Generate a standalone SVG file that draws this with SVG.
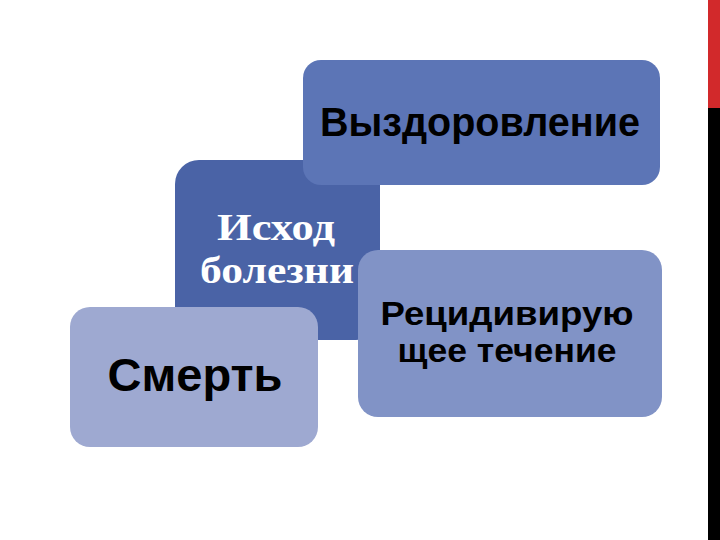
<svg xmlns="http://www.w3.org/2000/svg" width="720" height="540" viewBox="0 0 720 540">
<style>
.lbl{font-family:"Liberation Sans",Arial,sans-serif;font-weight:bold;fill:#000;text-anchor:middle}
.serif{font-family:"Liberation Serif","Times New Roman",serif;font-weight:bold;fill:#fff;text-anchor:middle}
</style>
<rect width="720" height="540" fill="#fff"/>
<rect x="708" y="0" width="12" height="108" fill="#d2292b"/>
<rect x="708" y="108" width="12" height="432" fill="#000"/>
<g id="ishod">
<rect x="175" y="160" width="205" height="180" rx="24" fill="#4a63a6"/>
<text class="serif" font-size="38" x="276" y="240" textLength="118" lengthAdjust="spacingAndGlyphs">Исход</text>
<text class="serif" font-size="38" x="277" y="283" textLength="154" lengthAdjust="spacingAndGlyphs">болезни</text>
</g>
<g id="vyzdorovlenie">
<rect x="303" y="60" width="357" height="125" rx="18" fill="#5c75b6"/>
<text class="lbl" font-size="41" x="480" y="136" textLength="320" lengthAdjust="spacingAndGlyphs">Выздоровление</text>
</g>
<g id="smert">
<rect x="70" y="307" width="248" height="140" rx="20" fill="#9ea9d1"/>
<text class="lbl" font-size="46" x="195" y="391" textLength="175" lengthAdjust="spacingAndGlyphs">Смерть</text>
</g>
<g id="recidiv">
<rect x="358" y="250" width="304" height="167" rx="20" fill="#8193c6"/>
<text class="lbl" font-size="33" x="507" y="325" textLength="253" lengthAdjust="spacingAndGlyphs">Рецидивирую</text>
<text class="lbl" font-size="33" x="507" y="362" textLength="219" lengthAdjust="spacingAndGlyphs">щее течение</text>
</g>
<g id="connectors"/>
</svg>
